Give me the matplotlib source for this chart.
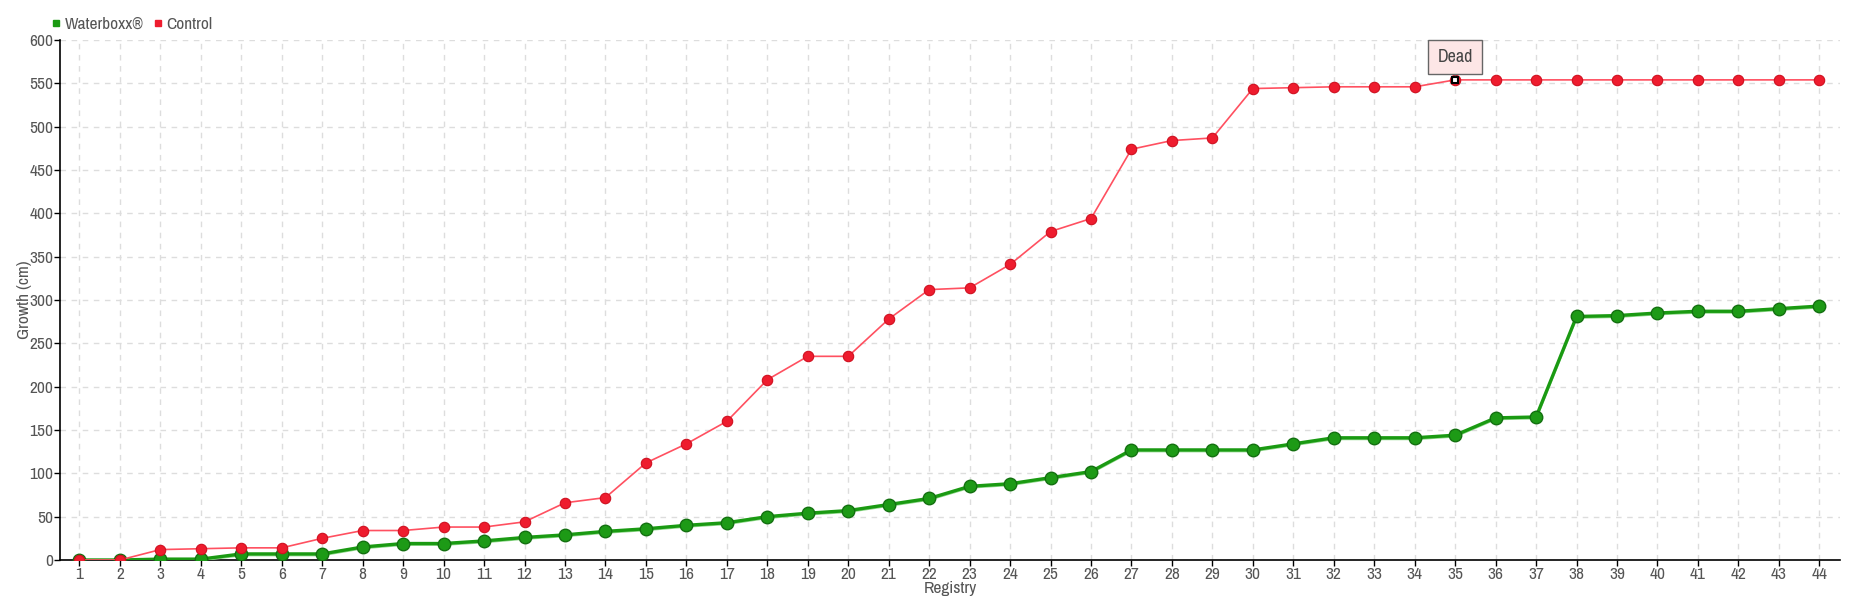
import numpy as np
import matplotlib.pyplot as plt
from matplotlib.lines import Line2D
from matplotlib import font_manager

registry = list(range(1, 45))

waterboxx = [0, 0, 1, 1, 7, 7, 7, 15, 19, 19, 22, 26, 29, 33, 36, 40, 43, 50, 54, 57,
             64, 71, 85, 88, 95, 102, 127, 127, 127, 127, 134, 141, 141, 141, 144, 164,
             165, 281, 282, 285, 287, 287, 290, 293]
control = [0, 0, 12, 13, 14, 14, 25, 34, 34, 38, 38, 44, 66, 72, 112, 134, 160, 208, 235,
           235, 278, 312, 314, 341, 379, 394, 474, 484, 487, 544, 545, 546, 546, 546, 554,
           554, 554, 554, 554, 554, 554, 554, 554, 554]
dead_at = 35
y_ticks = list(range(0, 601, 50))

# prefer a condensed face if one is installed
condensed = [f.name for f in font_manager.fontManager.ttflist
             if f.stretch in ('condensed', 'semi-condensed', 'extra-condensed', 600, 700) or
             'Narrow' in f.name or 'Condensed' in f.name]
fam = sorted(set(condensed))[:1]
plt.rcParams['font.family'] = fam + ['Roboto', 'DejaVu Sans']
plt.rcParams['font.stretch'] = 'condensed'
txt = '#555555'
green = '#1a9a12'
red = '#ee1c2e'

fig = plt.figure(figsize=(18.6, 6), dpi=100)
ax = fig.add_axes([0.0325, 0.0667, 0.9565, 0.8666])

# grid
ax.grid(True, color='#dddddd', linestyle=(0, (4, 4)), linewidth=1)
ax.set_axisbelow(True)

# waterboxx series (thick with light shadow)
ax.plot(registry, np.array(waterboxx) - 1.2, color='#8fd88a', lw=2.0, zorder=3)
ax.plot(registry, waterboxx, color=green, lw=2.4, zorder=4)
ax.plot(registry, waterboxx, ls='none', marker='o', ms=9, mfc='#1d9a16', mec='#137010',
        mew=1, zorder=5)

# control series
ax.plot(registry, control, color='#ff5060', lw=1.2, zorder=6)
ax.plot(registry, control, ls='none', marker='o', ms=7.5, mfc=red, mec='#d01020',
        mew=0.8, zorder=7)

# dead marker + label
i = registry.index(dead_at)
ax.plot([dead_at], [control[i]], ls='none', marker='s', ms=5, mfc='white', mec='black',
        mew=1.5, zorder=8)
ax.annotate('Dead', xy=(dead_at, control[i]), xytext=(0, 23), textcoords='offset pixels',
            ha='center', va='center', fontsize=13, color='#444444',
            bbox=dict(boxstyle='square,pad=0.5', fc='#fde6e6', ec='#666666', lw=1),
            arrowprops=dict(arrowstyle='-', color='#666666', lw=0.8, shrinkA=0, shrinkB=3),
            zorder=9)

ax.set_xlim(0.53, 44.5)
ax.set_ylim(0, 600)
ax.set_xticks(registry)
ax.set_yticks(y_ticks)
ax.tick_params(axis='both', colors='black', labelcolor=txt, labelsize=12.5, length=4,
               width=1, pad=1)
for s in ['top', 'right']:
    ax.spines[s].set_visible(False)
for s in ['left', 'bottom']:
    ax.spines[s].set_color('black')
    ax.spines[s].set_linewidth(1.2)

ax.set_ylabel('Growth (cm)', color=txt, fontsize=12.5)
ax.yaxis.set_label_coords(-0.016, 0.5)
ax.set_xlabel('Registry', color=txt, fontsize=12.5)
ax.xaxis.set_label_coords(0.5, -0.04)

handles = [Line2D([], [], ls='none', marker='s', ms=5, color=green),
           Line2D([], [], ls='none', marker='s', ms=5, color=red)]
fig.legend(handles, ['Waterboxx®', 'Control'], loc='upper left', bbox_to_anchor=(0.02, 0.995),
           ncol=2, frameon=False, fontsize=12.5, labelcolor=txt, handlelength=0.6,
           handletextpad=0.2, columnspacing=0.5, borderaxespad=0.4)

fig.savefig('out.png', dpi=100)
